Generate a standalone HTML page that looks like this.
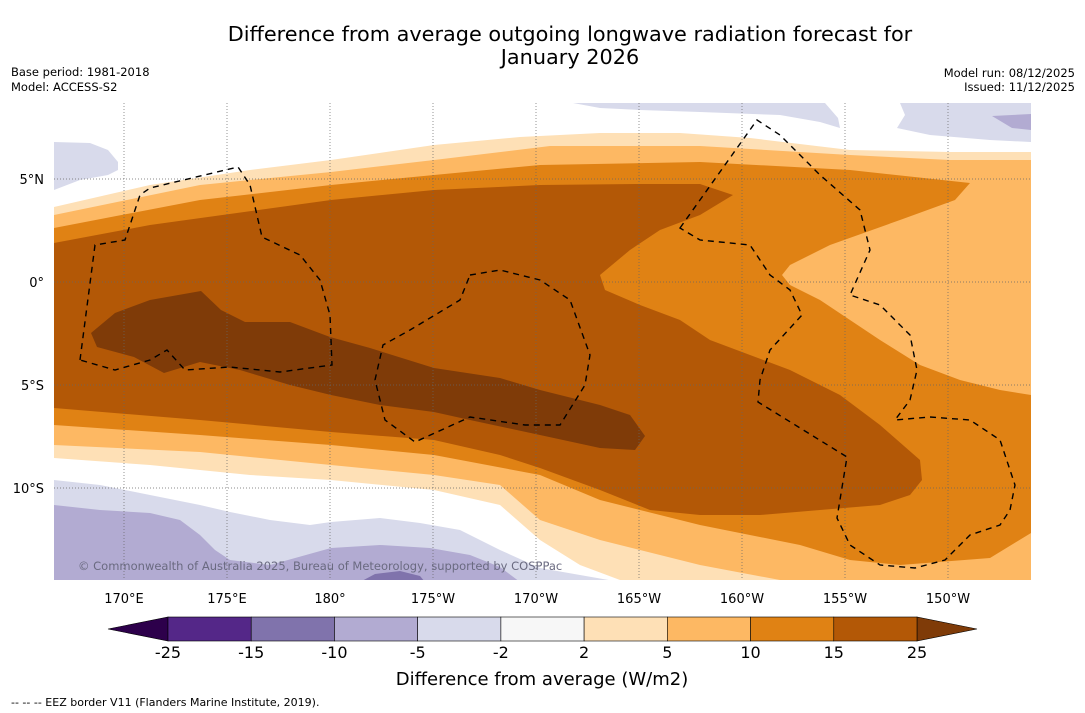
<!DOCTYPE html>
<html><head><meta charset="utf-8"><style>
html,body{margin:0;padding:0;background:#fff;}
svg{display:block;font-family:"DejaVu Sans","Liberation Sans",sans-serif;}
</style></head><body>
<svg id="chart" width="1085" height="713" viewBox="0 0 1085 713">
<rect width="1085" height="713" fill="#fff"/>
<text x="570" y="41" font-size="20.8" text-anchor="middle">Difference from average outgoing longwave radiation forecast for</text>
<text x="570" y="64" font-size="20.8" text-anchor="middle">January 2026</text>
<text x="11" y="76" font-size="11.5">Base period: 1981-2018</text>
<text x="11" y="91" font-size="11.5">Model: ACCESS-S2</text>
<text x="1075" y="77" font-size="11.5" text-anchor="end">Model run: 08/12/2025</text>
<text x="1075" y="91" font-size="11.5" text-anchor="end">Issued: 11/12/2025</text>

<g>
<clipPath id="mc"><rect x="54" y="103" width="977" height="477"/></clipPath>
<g clip-path="url(#mc)">
<rect x="54" y="103" width="977" height="477" fill="#ffffff"/>
<path fill="#d8daeb" d="M54,142 L90,143 L108,150 L118,162 L118,170 L108,175 L80,180 L54,190 Z"/>
<path fill="#d8daeb" d="M573,103 L825,103 L838,118 L840,128 L820,122 L780,115 L700,112 L640,110 L600,108 Z"/>
<path fill="#d8daeb" d="M900,103 L1031,103 L1031,142 L990,140 L930,135 L897,128 L905,115 Z"/>
<path fill="#b2abd2" d="M992,116 L1031,114 L1031,130 L1012,128 Z"/>
<path fill="#fee0b6" d="M54,207 L150,185 L250,170 L331,160 L434,145 L520,137 L600,133 L680,133 L750,138 L850,150 L950,152 L1031,152 L1031,580 L620,580 L580,565 L540,540 L500,505 L434,490 L331,480 L250,475 L150,465 L54,458 Z"/>
<path fill="#fdb863" d="M54,215 L200,185 L331,172 L434,160 L550,146 L700,146 L850,155 L950,160 L1031,160 L1031,580 L780,580 L700,565 L600,540 L540,520 L500,485 L434,475 L331,465 L200,452 L54,445 Z"/>
<path fill="#e08214" d="M54,228 L200,200 L331,185 L434,175 L540,165 L700,162 L850,170 L970,183 L955,200 L900,220 L830,245 L790,265 L782,275 L790,285 L820,300 L850,320 L880,340 L920,365 L960,380 L1000,390 L1031,395 L1031,533 L990,558 L900,565 L850,560 L800,545 L700,525 L600,500 L540,475 L434,455 L331,445 L200,435 L54,425 Z"/>
<path fill="#b35806" d="M54,243 L150,225 L331,200 L434,190 L540,185 L640,184 L700,184 L733,195 L700,215 L660,230 L630,250 L600,275 L605,290 L640,305 L680,320 L710,340 L750,355 L790,370 L840,395 L880,425 L920,460 L922,480 L910,495 L880,505 L820,510 L760,515 L700,515 L650,510 L600,490 L540,468 L500,455 L434,440 L331,432 L200,420 L54,408 Z"/>
<path fill="#7f3b08" d="M91,333 L115,313 L150,300 L201,291 L221,310 L245,322 L290,322 L330,337 L370,348 L434,368 L500,378 L540,390 L600,405 L630,415 L645,436 L635,450 L600,448 L540,435 L470,420 L434,412 L380,405 L331,395 L290,385 L240,370 L200,362 L164,373 L134,357 L97,347 Z"/>
<path fill="#d8daeb" d="M54,480 L100,485 L150,495 L200,505 L230,512 L270,520 L310,525 L331,522 L380,518 L420,523 L460,530 L500,550 L540,568 L580,575 L620,582 L54,582 Z"/>
<path fill="#b2abd2" d="M54,505 L100,510 L150,513 L180,520 L200,535 L215,550 L230,560 L270,565 L331,548 L380,545 L430,548 L470,555 L500,567 L520,582 L54,582 Z"/>
<path fill="#8073ac" d="M360,582 L375,574 L400,571 L420,576 L425,582 Z"/>
</g>
<g id="grid" stroke="#666" stroke-width="0.7" stroke-dasharray="1,2"></g>
<g fill="none" stroke="#000" stroke-width="1.4" stroke-dasharray="6,5">
<path d="M80,360 L95,245 L125,240 L140,195 L150,188 L238,167 L250,185 L262,237 L300,255 L320,280 L330,315 L332,365 L280,372 L230,367 L185,370 L167,350 L150,360 L115,370 Z"/>
<path d="M470,275 L500,270 L540,280 L570,300 L590,355 L585,385 L560,425 L525,425 L470,417 L415,442 L385,420 L375,380 L383,345 L410,330 L460,300 Z"/>
<path d="M680,228 L757,120 L780,135 L820,175 L860,210 L870,250 L850,295 L880,305 L910,335 L917,370 L910,400 L895,420 L930,417 L970,420 L1000,440 L1015,485 L1010,510 L1000,525 L970,535 L945,560 L915,568 L880,565 L850,545 L837,518 L847,457 L758,402 L760,380 L770,350 L802,315 L790,290 L770,275 L750,245 L700,240 Z"/>
</g>
<text x="78" y="570" font-size="11.5" fill="#6a6a80">© Commonwealth of Australia 2025, Bureau of Meteorology, supported by COSPPac</text>
</g>
<g id="axes"></g>
<g id="cbar"></g>
<text x="542" y="685" font-size="18" text-anchor="middle">Difference from average (W/m2)</text>
<text x="11" y="706" font-size="11">--  --  -- EEZ border V11 (Flanders Marine Institute, 2019).</text>
</svg>
<script>
const lonTicks=[170,175,180,-175,-170,-165,-160,-155,-150];
const lonLabels=["170°E","175°E","180°","175°W","170°W","165°W","160°W","155°W","150°W"];
const latTicks=[5,0,-5,-10];
const latLabels=["5°N","0°","5°S","10°S"];
const levels=["-25","-15","-10","-5","-2","2","5","10","15","25"];
const levelColors=["#542788","#8073ac","#b2abd2","#d8daeb","#f7f7f7","#fee0b6","#fdb863","#e08214","#b35806"];
const extendColors=["#2d004b","#7f3b08"];
const NS="http://www.w3.org/2000/svg";
function mk(t,a){const e=document.createElementNS(NS,t);for(const k in a)e.setAttribute(k,a[k]);return e;}
function xLon(l){const e=l<0?360+l:l;return 124+(e-170)*20.6;}
function yLat(l){return 282-l*20.6;}
const grid=document.getElementById('grid'),axes=document.getElementById('axes');
lonTicks.forEach((l,i)=>{const x=xLon(l);
 const ln=mk('line',{x1:x,y1:103,x2:x,y2:580});grid.appendChild(ln);
 const t=mk('text',{x:x,y:603,'font-size':13,'text-anchor':'middle'});t.textContent=lonLabels[i];
 axes.appendChild(t);});
latTicks.forEach((l,i)=>{const y=yLat(l);
 const ln=mk('line',{x1:54,y1:y,x2:1031,y2:y});grid.appendChild(ln);
 const t=mk('text',{x:44,y:y+5,'font-size':13,'text-anchor':'end'});t.textContent=latLabels[i];
 axes.appendChild(t);});
const cb=document.getElementById('cbar');
const x0=168,x1=917,y0=617,h=24,w=(x1-x0)/levelColors.length;
const lt=mk('polygon',{points:`108,${y0+h/2} ${x0},${y0} ${x0},${y0+h}`,fill:extendColors[0],stroke:'#000','stroke-width':0.6});
cb.appendChild(lt);
const rt=mk('polygon',{points:`977,${y0+h/2} ${x1},${y0} ${x1},${y0+h}`,fill:extendColors[1],stroke:'#000','stroke-width':0.6});
cb.appendChild(rt);
levelColors.forEach((c,i)=>{const r=mk('rect',{x:x0+i*w,y:y0,width:w,height:h,fill:c,stroke:'#000','stroke-width':0.6});
 cb.appendChild(r);});
levels.forEach((v,i)=>{const t=mk('text',{x:x0+i*w,y:658,'font-size':16,'text-anchor':'middle'});t.textContent=v;
 cb.appendChild(t);});
</script>
</body></html>
